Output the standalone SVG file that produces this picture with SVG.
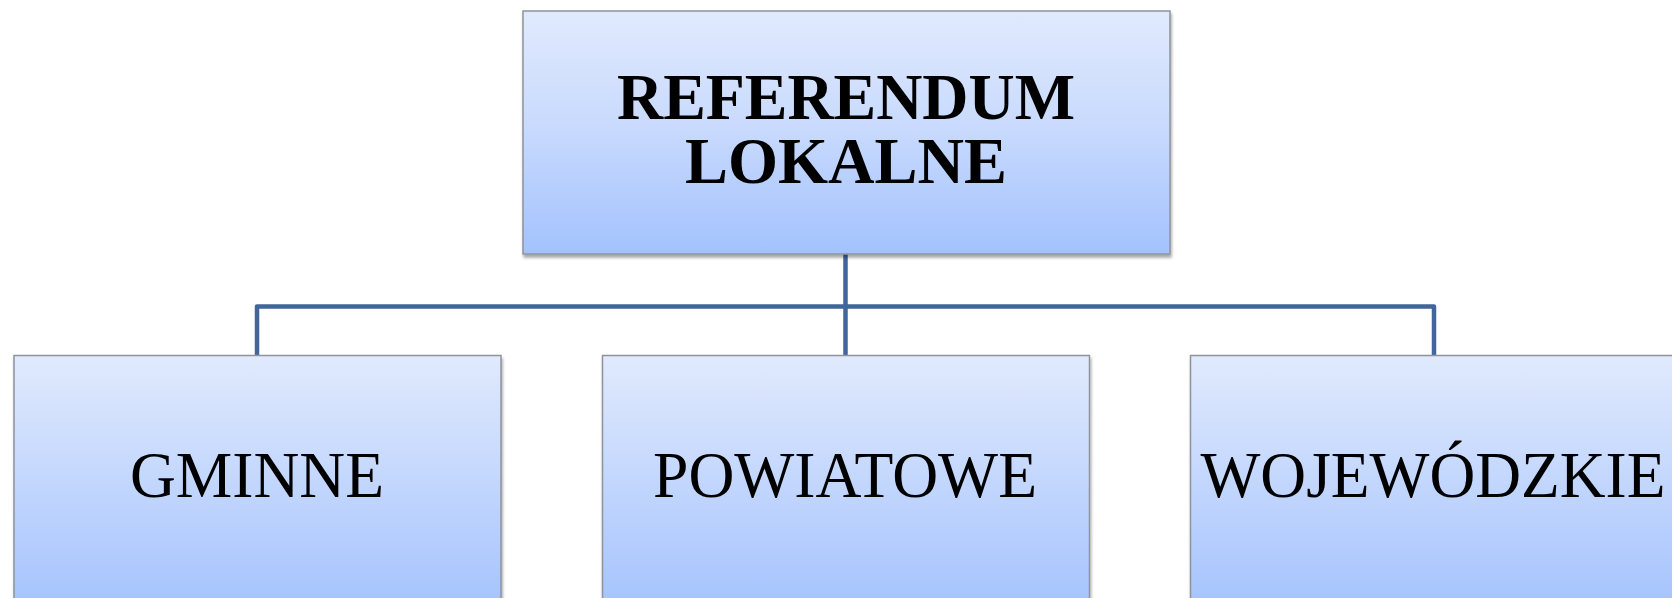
<svg xmlns="http://www.w3.org/2000/svg" width="1672" height="598" viewBox="0 0 1672 598">
<style>
.box{fill:url(#g);stroke:#8E939C;stroke-width:1.5;filter:url(#sh)}
.conn{fill:none;stroke:#41669A;stroke-width:4.5;stroke-linejoin:round}
.t{font-family:"Liberation Serif","Times New Roman",serif;fill:#000;text-anchor:middle}
.b{font-weight:bold;font-size:66px}
.r{font-size:66px}
</style>
<defs>
<linearGradient id="g" x1="0" y1="0" x2="0" y2="1">
<stop offset="0" stop-color="#E1EAFD"/>
<stop offset="0.5" stop-color="#C7D9FD"/>
<stop offset="1" stop-color="#A3C2FD"/>
</linearGradient>
<linearGradient id="g2" x1="0" y1="0" x2="0" y2="1">
<stop offset="0" stop-color="#E1EAFD"/>
<stop offset="1" stop-color="#A3C2FD"/>
</linearGradient>
<filter id="sh" x="-5%" y="-5%" width="110%" height="115%">
<feGaussianBlur in="SourceAlpha" stdDeviation="1.5"/>
<feOffset dx="1" dy="2.5" result="o"/>
<feComponentTransfer><feFuncA type="linear" slope="0.35"/></feComponentTransfer>
<feMerge><feMergeNode/><feMergeNode in="SourceGraphic"/></feMerge>
</filter>
</defs>
<g id="connectors">
<path class="conn" d="M845.5 254 V355"/>
<path class="conn" d="M257 355 V306.5 H1434 V355"/>
</g>
<g id="node-root">
<rect class="box" x="523" y="11" width="647" height="243"/>
<text class="t b" x="846" y="119" textLength="458" lengthAdjust="spacingAndGlyphs">REFERENDUM</text>
<text class="t b" x="846" y="183" textLength="322" lengthAdjust="spacingAndGlyphs">LOKALNE</text>
</g>
<g id="node-gminne">
<rect class="box" x="14" y="355.5" width="487" height="260" style="fill:url(#g2)"/>
<text class="t r" x="257" y="497" textLength="254" lengthAdjust="spacingAndGlyphs">GMINNE</text>
</g>
<g id="node-powiatowe">
<rect class="box" x="602.5" y="355.5" width="487" height="260" style="fill:url(#g2)"/>
<text class="t r" x="845" y="497" textLength="384" lengthAdjust="spacingAndGlyphs">POWIATOWE</text>
</g>
<g id="node-wojewodzkie">
<rect class="box" x="1190.5" y="355.5" width="487" height="260" style="fill:url(#g2)"/>
<text class="t r" x="1433" y="497" textLength="465" lengthAdjust="spacingAndGlyphs">WOJEWÓDZKIE</text>
</g>
</svg>
